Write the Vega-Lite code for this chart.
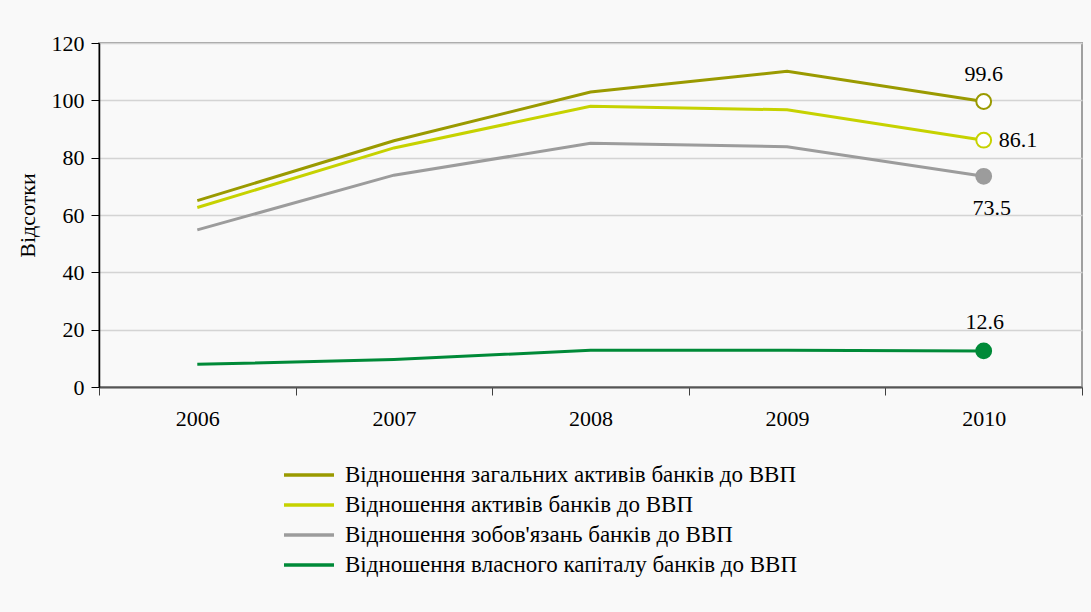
{
  "$schema": "https://vega.github.io/schema/vega-lite/v6.json",
  "width": 983,
  "height": 344,
  "autosize": {"type": "none"},
  "padding": {"left": 99, "top": 43, "right": 9, "bottom": 225},
  "background": "#f9f9f9",
  "config": {
    "font": "Liberation Serif",
    "view": {"stroke": "#a0a0a0", "strokeWidth": 2},
    "axis": {"labelFont": "Liberation Serif", "titleFont": "Liberation Serif", "labelColor": "#000", "titleColor": "#000"},
    "legend": {"labelFont": "Liberation Serif", "labelColor": "#000"},
    "text": {"font": "Liberation Serif", "fontSize": 22, "color": "#000"}
  },
  "data": {
    "values": [
      {"year": "2006", "series": "Відношення загальних активів банків до ВВП", "value": 65.0},
      {"year": "2007", "series": "Відношення загальних активів банків до ВВП", "value": 85.9},
      {"year": "2008", "series": "Відношення загальних активів банків до ВВП", "value": 102.9},
      {"year": "2009", "series": "Відношення загальних активів банків до ВВП", "value": 110.1},
      {"year": "2010", "series": "Відношення загальних активів банків до ВВП", "value": 99.6},
      {"year": "2006", "series": "Відношення активів банків до ВВП", "value": 62.6},
      {"year": "2007", "series": "Відношення активів банків до ВВП", "value": 83.4},
      {"year": "2008", "series": "Відношення активів банків до ВВП", "value": 97.9},
      {"year": "2009", "series": "Відношення активів банків до ВВП", "value": 96.7},
      {"year": "2010", "series": "Відношення активів банків до ВВП", "value": 86.1},
      {"year": "2006", "series": "Відношення зобов'язань банків до ВВП", "value": 54.8},
      {"year": "2007", "series": "Відношення зобов'язань банків до ВВП", "value": 73.9},
      {"year": "2008", "series": "Відношення зобов'язань банків до ВВП", "value": 85.0},
      {"year": "2009", "series": "Відношення зобов'язань банків до ВВП", "value": 83.8},
      {"year": "2010", "series": "Відношення зобов'язань банків до ВВП", "value": 73.5},
      {"year": "2006", "series": "Відношення власного капіталу банків до ВВП", "value": 7.9},
      {"year": "2007", "series": "Відношення власного капіталу банків до ВВП", "value": 9.6},
      {"year": "2008", "series": "Відношення власного капіталу банків до ВВП", "value": 12.8},
      {"year": "2009", "series": "Відношення власного капіталу банків до ВВП", "value": 12.8},
      {"year": "2010", "series": "Відношення власного капіталу банків до ВВП", "value": 12.6}
    ]
  },
  "encoding": {
    "x": {
      "field": "year", "type": "ordinal",
      "scale": {"paddingInner": 0, "paddingOuter": 0},
      "axis": {"title": null, "labelAngle": 0, "labelFontSize": 22, "tickBand": "extent", "tickSize": 8, "tickColor": "#404040", "domainColor": "#555555", "domainWidth": 2, "labelPadding": 13, "grid": false}
    },
    "y": {
      "field": "value", "type": "quantitative",
      "scale": {"domain": [0, 120], "nice": false},
      "axis": {"title": "Відсотки", "titleFontSize": 22, "titleFontWeight": "normal", "titlePadding": 12, "values": [0, 20, 40, 60, 80, 100, 120], "labelFontSize": 22, "tickSize": 8, "tickColor": "#000", "domainColor": "#000", "domainWidth": 1.5, "labelPadding": 7, "gridColor": "#d4d4d4", "gridWidth": 1.5}
    }
  },
  "layer": [
    {
      "mark": {"type": "line", "strokeWidth": 3},
      "encoding": {
        "color": {
          "field": "series", "type": "nominal",
          "scale": {
            "domain": ["Відношення загальних активів банків до ВВП", "Відношення активів банків до ВВП", "Відношення зобов'язань банків до ВВП", "Відношення власного капіталу банків до ВВП"],
            "range": ["#9a9a00", "#c6d200", "#9c9c9c", "#008a38"]
          },
          "legend": {
            "title": null, "orient": "none", "legendX": 198, "legendY": 420, "direction": "vertical",
            "symbolType": "M-2.5,0H2.5", "symbolSize": 400, "symbolStrokeWidth": 3.5, "labelFontSize": 23, "labelOffset": 24, "rowPadding": 6, "labelLimit": 800, "padding": 0
          }
        }
      }
    },
    {
      "transform": [{"filter": "datum.year == '2010'"}],
      "mark": {"type": "point", "size": 220, "strokeWidth": 2, "opacity": 1, "filled": false},
      "encoding": {
        "stroke": {"field": "series", "type": "nominal", "scale": {"domain": ["Відношення загальних активів банків до ВВП", "Відношення активів банків до ВВП", "Відношення зобов'язань банків до ВВП", "Відношення власного капіталу банків до ВВП"], "range": ["#9a9a00", "#c6d200", "#9c9c9c", "#008a38"]}, "legend": null},
        "fill": {"field": "series", "type": "nominal", "scale": {"domain": ["Відношення загальних активів банків до ВВП", "Відношення активів банків до ВВП", "Відношення зобов'язань банків до ВВП", "Відношення власного капіталу банків до ВВП"], "range": ["#ffffff", "#ffffff", "#9c9c9c", "#008a38"]}, "legend": null}
      }
    },
    {
      "transform": [{"filter": "datum.year == '2010' && datum.series == 'Відношення загальних активів банків до ВВП'"}],
      "mark": {"type": "text", "dy": -27, "dx": 0},
      "encoding": {"text": {"field": "value", "type": "quantitative", "format": ".1f"}}
    },
    {
      "transform": [{"filter": "datum.year == '2010' && datum.series == 'Відношення активів банків до ВВП'"}],
      "mark": {"type": "text", "align": "left", "dx": 15, "dy": 0},
      "encoding": {"text": {"field": "value", "type": "quantitative", "format": ".1f"}}
    },
    {
      "transform": [{"filter": "datum.year == '2010' && datum.series == \"Відношення зобов'язань банків до ВВП\""}],
      "mark": {"type": "text", "dx": 8, "dy": 32},
      "encoding": {"text": {"field": "value", "type": "quantitative", "format": ".1f"}}
    },
    {
      "transform": [{"filter": "datum.year == '2010' && datum.series == 'Відношення власного капіталу банків до ВВП'"}],
      "mark": {"type": "text", "dx": 1, "dy": -29},
      "encoding": {"text": {"field": "value", "type": "quantitative", "format": ".1f"}}
    }
  ]
}
